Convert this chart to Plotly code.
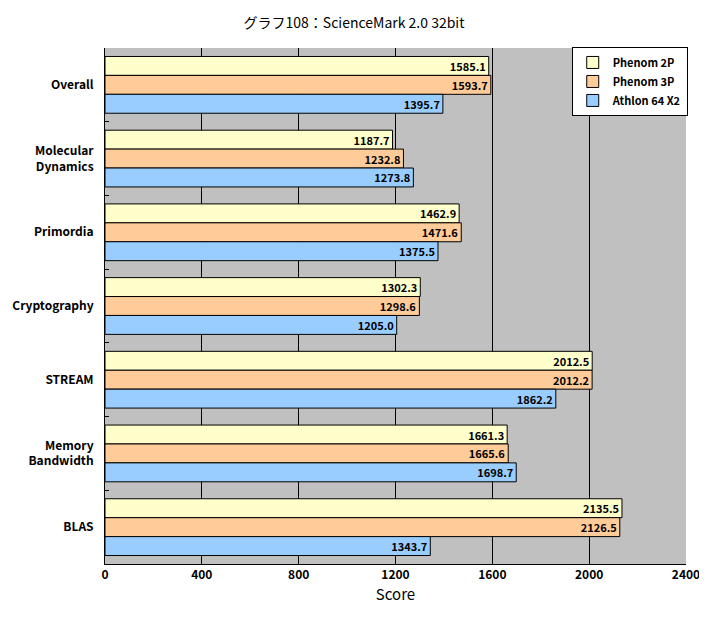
import plotly.graph_objects as go

categories = ["Overall", "Molecular<br>Dynamics", "Primordia", "Cryptography", "STREAM", "Memory<br>Bandwidth", "BLAS"]
series_names = ["Phenom 2P", "Phenom 3P", "Athlon 64 X2"]
phenom2p = [1585.1, 1187.7, 1462.9, 1302.3, 2012.5, 1661.3, 2135.5]
phenom3p = [1593.7, 1232.8, 1471.6, 1298.6, 2012.2, 1665.6, 2126.5]
athlon = [1395.7, 1273.8, 1375.5, 1205.0, 1862.2, 1698.7, 1343.7]
x_ticks = [0, 400, 800, 1200, 1600, 2000, 2400]

colors = ["#FFFFCC", "#FFCC99", "#99CCFF"]
FONT = "Noto Sans CJK JP, DejaVu Sans, sans-serif"

fig = go.Figure()
for name, vals, col in zip(series_names, [phenom2p, phenom3p, athlon], colors):
    fig.add_trace(go.Bar(
        y=categories, x=vals, name=name, orientation="h",
        marker=dict(color=col, line=dict(color="black", width=1)),
        texttemplate="%{x:.1f}", textposition="inside", insidetextanchor="end",
        textfont=dict(family=FONT, size=11, color="black", weight="bold"),
        constraintext="none", cliponaxis=False,
    ))

# page body has an 8px margin; figure sized/offset so the plot area lands where the reference has it
fig.update_layout(
    width=699, height=613,
    barmode="group", bargap=0.23, bargroupgap=0,
    paper_bgcolor="white", plot_bgcolor="#C0C0C0",
    margin=dict(l=97, r=21, t=40, b=57, autoexpand=False),
    title=dict(text="グラフ108：ScienceMark 2.0 32bit", x=0.495, xanchor="center", y=0.975, yanchor="middle",
               font=dict(family=FONT, size=14, color="black"), automargin=False),
    font=dict(family=FONT, size=12, color="black"),
    showlegend=True,
    legend=dict(x=1.003, y=1.002, xanchor="right", yanchor="top", bgcolor="white",
                bordercolor="black", borderwidth=1, traceorder="normal",
                font=dict(family=FONT, size=11, color="black", weight="bold"),
                itemwidth=30, tracegroupgap=0),
    uniformtext=dict(mode=False),
)
fig.update_xaxes(range=[0, 2400], tickvals=x_ticks, showgrid=True, gridcolor="black", gridwidth=1,
                 showline=True, linecolor="black", linewidth=1, mirror=False, ticks="", zeroline=False,
                 automargin=False,
                 tickfont=dict(family=FONT, size=12, weight="bold"),
                 title=dict(text="Score", font=dict(family=FONT, size=15), standoff=8))
fig.update_yaxes(autorange="reversed", showline=True, linecolor="black", linewidth=1,
                 showgrid=False, ticks="inside", tickson="boundaries", ticklen=4, tickcolor="black",
                 automargin=False, ticklabelstandoff=8,
                 tickfont=dict(family=FONT, size=12, weight="bold"))

fig.write_html("out.html")
